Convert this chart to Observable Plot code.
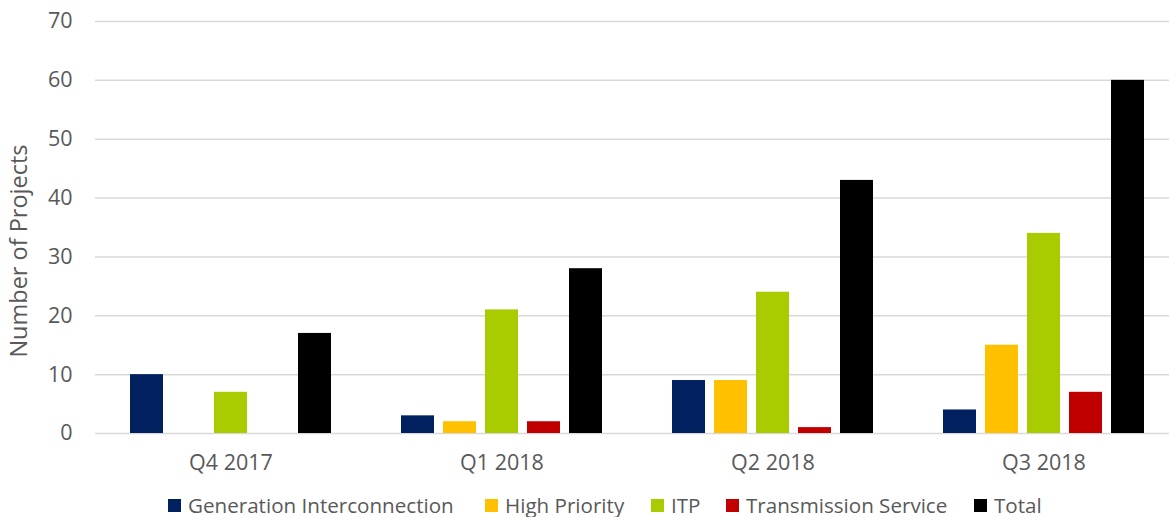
<!DOCTYPE html>
<html>
<head>
<meta charset="utf-8">
<script src="https://cdn.jsdelivr.net/npm/d3@7"></script>
<script src="https://cdn.jsdelivr.net/npm/@observablehq/plot@0.6"></script>
<style>
  html, body { margin: 0; padding: 0; background: #fff; }
  body { width: 1169px; height: 517px; overflow: hidden; position: relative; font-family: "Open Sans", sans-serif; }
  #chart { position: absolute; left: 0; top: 0; }
  #chart svg { max-width: none !important; }
  #legend { position: absolute; left: 0; top: 491px; width: 1169px; height: 26px; font-size: 20.6px; color: #595959; white-space: nowrap; }
  #legend .item { position: absolute; top: 0; display: flex; align-items: center; gap: 7px; }
  #legend .sw { width: 13px; height: 13px; display: inline-block; }
  #ylabel { position: absolute; left: 18px; top: 251px; transform: translate(-50%, -50%) rotate(-90deg); font-size: 23.5px; color: #595959; white-space: nowrap; }
</style>
</head>
<body>
<div id="chart"></div>
<div id="ylabel">Number of Projects</div>
<div id="legend"></div>
<script>
const categories = ["Q4 2017", "Q1 2018", "Q2 2018", "Q3 2018"];
const seriesNames = ["Generation Interconnection", "High Priority", "ITP", "Transmission Service", "Total"];
const seriesColors = ["#002060", "#FFC000", "#A9CC00", "#C00000", "#000000"];
const generationInterconnection = [10, 3, 9, 4];
const highPriority = [0, 2, 9, 15];
const itp = [7, 21, 24, 34];
const transmissionService = [0, 2, 1, 7];
const total = [17, 28, 43, 60];
const yTicks = [0, 10, 20, 30, 40, 50, 60, 70];
const legendLefts = [168, 485, 651, 726, 974];

const seriesValues = [generationInterconnection, highPriority, itp, transmissionService, total];
const data = [];
categories.forEach((c, i) => {
  seriesNames.forEach((s, j) => data.push({category: c, series: s, value: seriesValues[j][i]}));
});

const textColor = "#595959";
const chart = Plot.plot({
  width: 1179,
  height: 490,
  marginLeft: 95,
  marginRight: 0,
  marginTop: 21,
  marginBottom: 57,
  style: {fontFamily: "'Open Sans', sans-serif", color: textColor, background: "#fff"},
  fx: {domain: categories, padding: 0, label: null},
  x: {domain: seriesNames, paddingInner: 0.21, paddingOuter: 0.82, axis: null},
  y: {domain: [0, 70], label: null},
  color: {domain: seriesNames, range: seriesColors},
  marks: [
    Plot.gridY(yTicks, {stroke: "#d9d9d9", strokeOpacity: 1, strokeWidth: 1.5}),
    Plot.axisY(yTicks, {tickSize: 0, tickPadding: 23, fontSize: 21.5, fill: textColor, label: null}),
    Plot.axisFx({anchor: "bottom", tickSize: 0, tickPadding: 21, fontSize: 21.5, fill: textColor, label: null}),
    Plot.barY(data.filter(d => d.value > 0), {fx: "category", x: "series", y: "value", fill: "series"})
  ]
});
document.getElementById("chart").appendChild(chart);

const legend = document.getElementById("legend");
seriesNames.forEach((s, i) => {
  const item = document.createElement("div");
  item.className = "item";
  item.style.left = legendLefts[i] + "px";
  const sw = document.createElement("span");
  sw.className = "sw";
  sw.style.background = seriesColors[i];
  const t = document.createElement("span");
  t.textContent = s;
  item.appendChild(sw);
  item.appendChild(t);
  legend.appendChild(item);
});
</script>
</body>
</html>
